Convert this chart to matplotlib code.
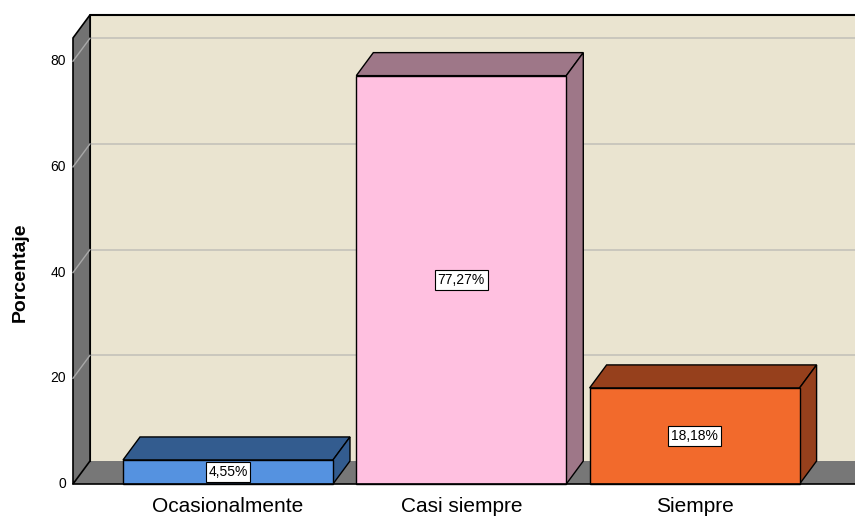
import matplotlib.pyplot as plt
from matplotlib.patches import Polygon, Rectangle

categorias = ["Ocasionalmente", "Casi siempre", "Siempre"]
porcentajes = [4.55, 77.27, 18.18]
etiquetas = ["4,55%", "77,27%", "18,18%"]
ticks_y = [0, 20, 40, 60, 80]

cor_frente = ["#5592E0", "#FFC0E0", "#F26A2C"]
cor_lado = ["#335C8F", "#9E7788", "#96401C"]

plt.rcParams['font.family'] = ['Liberation Sans', 'DejaVu Sans']

# escala: eixo ocupa a figura toda, coordenadas em unidades de dados
fig = plt.figure(figsize=(8.55, 5.18), dpi=100)
ax = fig.add_axes([0, 0, 1, 1])
px_x = 233.3
px_y = 5.285
x0 = -228 / px_x
x1 = (855 - 228) / px_x
y0 = -34 / px_y
y1 = 484 / px_y
ax.set_xlim(x0, x1)
ax.set_ylim(y0, y1)
ax.axis("off")

dx = 17 / px_x
dy = 23 / px_y
esq = (73 - 228) / px_x
topo = 84.4
larg = 0.45

# parede do fundo
ax.add_patch(Rectangle((esq + dx, dy), x1 - esq, topo, facecolor="#EAE4D0",
                       edgecolor="none", zorder=1))
ax.plot([esq + dx, esq + dx, x1 + 0.1], [dy, topo + dy, topo + dy],
        color="black", lw=1.5, zorder=3)

# parede esquerda
ax.add_patch(Polygon([(esq, 0), (esq, topo), (esq + dx, topo + dy), (esq + dx, dy)],
                     closed=True, facecolor="#727272", edgecolor="black", lw=1.2, zorder=3))

# chao
ax.add_patch(Polygon([(esq, 0), (x1 + 0.1, 0), (x1 + 0.1, dy), (esq + dx, dy)],
                     closed=True, facecolor="#777777", edgecolor="none", zorder=2))
ax.plot([esq, x1 + 0.1], [0, 0], color="black", lw=1.2, zorder=6)

# grelha
for t in ticks_y[1:]:
    ax.plot([esq + dx, x1 + 0.1], [t + dy, t + dy], color="#C4C2BA", lw=1.2, zorder=2)
    ax.plot([esq, esq + dx], [t, t + dy], color="#A8A8A8", lw=1, zorder=4)
for t in ticks_y:
    ax.text(esq - 0.03, t, str(t), ha="right", va="center", fontsize=10)

ax.text(20 / px_x + x0, 40, "Porcentaje", rotation=90, ha="center", va="center",
        fontsize=14, fontweight="bold")

# barras
for i, v in enumerate(porcentajes):
    a = i - larg
    b = i + larg
    ax.add_patch(Polygon([(a, v), (b, v), (b + dx, v + dy), (a + dx, v + dy)],
                         closed=True, facecolor=cor_lado[i], edgecolor="black", lw=1, zorder=5))
    ax.add_patch(Polygon([(b, 0), (b, v), (b + dx, v + dy), (b + dx, dy)],
                         closed=True, facecolor=cor_lado[i], edgecolor="black", lw=1, zorder=5))
    ax.add_patch(Rectangle((a, 0), b - a, v, facecolor=cor_frente[i],
                           edgecolor="black", lw=1, zorder=5))
    ax.text(i, v / 2, etiquetas[i], ha="center", va="center", fontsize=10, zorder=7,
            bbox=dict(boxstyle="square,pad=0.2", facecolor="white", edgecolor="black", lw=0.8))
    ax.text(i, -4.2, categorias[i], ha="center", va="center", fontsize=15)

fig.savefig("out.png", dpi=100)
